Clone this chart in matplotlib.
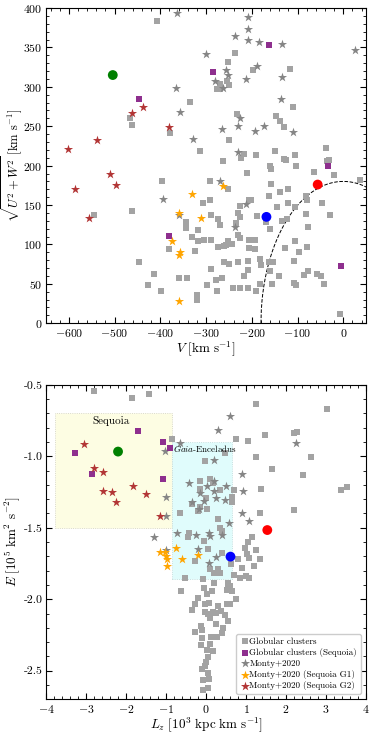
import matplotlib
matplotlib.use("Agg")
import matplotlib.pyplot as plt
import numpy as np
from matplotlib.patches import Rectangle
from matplotlib.ticker import AutoMinorLocator, MultipleLocator

plt.rcParams["font.family"] = "serif"
plt.rcParams["font.serif"] = ["cmr10", "DejaVu Serif"]
plt.rcParams["mathtext.fontset"] = "cm"
plt.rcParams["axes.formatter.use_mathtext"] = True

# ---------------- top panel: V vs sqrt(U^2+W^2) ----------------
gc_v = [-407, -237, -251, -197, -116, -277, -269, -270, -249, -255, -336, -111, -467, -461,
        -233, -148, -139, -130, -379, -249, -313, -218, -190, -106, -150, -224, -264, -129,
        -125, -161, -157, -103, -38, -32, -35, -63, -211, -20, 36, -396,
        -291, -251, -546, -461, -343, -343, -380, -291, -307, -289, -275, -269, -317, -330,
        -317, -305, -289, -273, -260, -252, -244, -257, -226, -231, -226, -234, -231, -225,
        -206, -202, -206, -207, -194, -192, -189, -168, -158, -161, -163, -145, -139, -121,
        -121, -133, -122, -106, -82, -80, -81, -78, -46, -29, -128, -106, -96, -80, -107,
        -163, -181, -179, -160, -154, -141, -208, -231, -260, -250, -208, -218, -289, -265,
        -279, -297, -277, -241, -225, -208, -190, -181, -156, -108, -104, -86, -78, -58, -48,
        -42, -7, -446, -414, -427, -399, -359, -341, -320, -319, -325]
gc_uw = [384, 343, 331, 322, 323, 297, 297, 303, 302, 307, 281, 274, 260, 252,
         266, 263, 257, 249, 241, 232, 218, 215, 214, 214, 218, 210, 206, 208,
         207, 200, 196, 200, 223, 207, 206, 192, 191, 188, 182, 181,
         180, 170, 137, 142, 128, 121, 94, 156, 153, 137, 132, 125, 118, 110,
         105, 106, 106, 97, 98, 105, 100, 99, 149, 140, 135, 127, 112, 108,
         157, 157, 106, 96, 94, 106, 136, 128, 177, 119, 162, 147, 167, 171,
         152, 130, 132, 147, 162, 157, 139, 122, 152, 137, 96, 104, 91, 97, 79,
         78, 82, 74, 66, 78, 60, 79, 78, 78, 75, 67, 60, 69, 58,
         55, 49, 41, 45, 45, 45, 41, 50, 50, 51, 49, 61, 66, 63, 60,
         50, 12, 78, 62, 48, 41, 58, 58, 36, 29, 92]

seq_gc_v = [-284, -447, -162, -34, -381, -4]
seq_gc_uw = [319, 284, 353, 200, 111, 73]

monty_v = [-364, -208, -209, -236, -208, -185, -135, -300, 25, -188, -257, -253, -135, -281,
           -212, -366, -262, -136, -356, -226, -265, -231, -192, -174, -111, -328, -230,
           -269, -395, -212, -236, -360]
monty_uw = [394, 389, 373, 365, 359, 357, 355, 342, 347, 327, 322, 315, 313, 307,
            310, 299, 299, 285, 268, 260, 246, 250, 244, 250, 243, 234, 217,
            180, 158, 151, 122, 138]

g1_v = [-331, -264, -360, -312, -375, -356, -359, -360]
g1_uw = [164, 174, 140, 133, 104, 91, 87, 28]

g2_v = [-602, -538, -510, -461, -437, -380, -586, -496, -556]
g2_uw = [221, 233, 190, 267, 274, 249, 170, 175, 133]

big_v = [-504, -168, -56]
big_uw = [315, 135, 176]
big_colors = ["green", "blue", "red"]

v_halo = 180  # radius of dashed boundary

# ---------------- bottom panel: Lz vs E ----------------
gc_lz = [-2.80, -1.85, -1.43, 1.25, 3.03, -0.86, 0.75, 1.04, 1.47, 2.19, 2.28, 0.47, 1.25, 1.65,
         2.63, 2.41, 3.38, 3.51, 2.19, 1.34, 1.37, -0.66, 0.71, 0.66, 0.64,
         -0.02, 0.10, -0.14, 0.17, 0.36, -0.14, 0.00, -0.36, -0.15, 0.03, -0.21, 0.31, 0.36,
         0.39, -0.45, -0.42, -0.06, 0.04, -0.27, 0.39, -0.53, -0.07, 0.21, 0.30, 0.19, 0.34,
         0.10, 0.56,
         1.16, 1.06, 0.97, 1.25, 1.03, 1.08, 1.34, 0.79, 0.62, 0.89, 1.19, 0.71, 0.86, 1.00, 1.07,
         -0.62, -0.36, -0.27, -0.19, -0.04, 0.02, 0.14, -0.03, 0.08, -0.03, 0.04, 0.10, 0.17,
         0.31, 0.38, 0.25, 0.47, 0.53, 0.59, 0.75, 0.53, 0.59, 0.64, 0.55, 0.54, 0.25, 0.42,
         0.39, -0.12, -0.11, -0.27, -0.10, 0.13, 0.27, -0.13, 0.11, 0.03, 0.17, 0.04, 0.00,
         -0.11, -0.02, 0.04, -0.07, 0.08, -0.08, 0.04]
gc_e = [-0.544, -0.591, -0.563, -0.635, -0.670, -0.877, -0.881, -0.891, -0.849, -0.837, -0.830,
        -0.977, -1.005, -1.086, -1.002, -1.133, -1.237, -1.216, -1.379, -1.398, -1.228, -1.398,
        -1.237, -1.284, -1.321,
        -1.035, -1.156, -1.174, -1.186, -1.237, -1.228, -1.291, -1.337, -1.353, -1.372, -1.384,
        -1.437, -1.500, -1.523, -1.563, -1.540, -1.593, -1.647, -1.733, -1.674, -1.849, -1.860,
        -1.884, -1.791, -1.814, -1.814, -1.786, -1.888,
        -1.568, -1.601, -1.640, -1.658, -1.686, -1.709, -1.716, -1.721, -1.756, -1.779, -1.767,
        -1.830, -1.849, -1.837, -1.849,
        -1.945, -2.078, -2.033, -1.991, -1.921, -1.961, -1.940, -2.030, -2.026, -2.090, -2.102,
        -2.128, -2.088, -2.046, -2.079, -2.098, -2.107, -2.034, -2.031, -1.999, -1.933, -1.910,
        -1.945, -1.891, -2.154, -2.175, -2.203, -2.233, -2.186, -2.215, -2.226, -2.273, -2.265,
        -2.265, -2.319, -2.314, -2.354, -2.365, -2.405, -2.436, -2.489, -2.466, -2.518, -2.565,
        -2.560, -2.635, -2.624]

seq_gc_lz = [-3.27, -1.71, -2.85, -1.08, -0.89, -1.08]
seq_gc_e = [-0.977, -0.823, -1.126, -0.898, -0.940, -1.160]

monty_lz = [0.59, 0.30, -0.64, -1.02, 2.24, 0.20, 0.89, 0.93, -0.99, -0.99, 0.89, 1.08, -1.29,
            -0.43, 0.21, 0.03, 0.49, -0.14, 0.21, -0.04, 0.25, 0.47, -0.34, -0.17, 0.58, -0.73,
            -0.25, 0.07, 0.10, 0.40, -0.21, -0.99, 0.24, 0.07]
monty_e = [-0.716, -0.814, -0.907, -0.963, -0.907, -1.023, -1.121, -1.244, -1.284, -1.421,
           -1.398, -1.456, -1.562, -1.186, -1.174, -1.209, -1.209, -1.256, -1.244, -1.314,
           -1.291, -1.307, -1.321, -1.367, -1.470, -1.540, -1.553, -1.535, -1.558, -1.553,
           -1.647, -1.658, -1.702, -1.749]

g1_lz = [-1.14, -1.02, -0.99, -0.97, -0.97, -0.76, -0.61, -0.19]
g1_e = [-1.673, -1.669, -1.699, -1.722, -1.769, -1.645, -1.720, -1.694]

g2_lz = [-3.05, -2.81, -2.58, -2.58, -2.36, -2.25, -1.82, -1.49, -1.16]
g2_e = [-0.916, -1.084, -1.107, -1.240, -1.249, -1.319, -1.205, -1.265, -1.421]

big_lz = [-2.20, 0.61, 1.53]
big_e = [-0.967, -1.702, -1.516]

seq_box = (-3.77, -0.86, -1.50, -0.70)   # lz0, lz1, e0, e1
ge_box = (-0.85, 0.64, -1.86, -0.90)

e_ticks = [-0.5, -1.0, -1.5, -2.0, -2.5]
e_ticklabels = ["-0.5", "-1.0", "-1.5", "-2.0", "-2.5"]

c_gc = "#a3a3a3"
c_seq = "#8e2f8e"
c_monty = "#858585"
c_g1 = "#ffa500"
c_g2 = "#b23535"

fig = plt.figure(figsize=(3.74, 7.33), dpi=100)
ax1 = fig.add_axes([0.123, 0.559, 0.856, 0.430])
ax2 = fig.add_axes([0.123, 0.046, 0.856, 0.429])

s_sq, s_star, s_big = 16, 48, 50


def draw(ax, gx, gy, sx, sy, mx, my, ax_, ay_, bx, by, cx, cy):
    ax.scatter(gx, gy, marker="s", s=s_sq, c=c_gc, lw=0, zorder=3, label="Globular clusters")
    ax.scatter(sx, sy, marker="s", s=s_sq, c=c_seq, lw=0, zorder=4,
               label="Globular clusters (Sequoia)")
    ax.scatter(mx, my, marker="*", s=s_star, c=c_monty, lw=0, zorder=3, label="Monty+2020")
    ax.scatter(ax_, ay_, marker="*", s=s_star, c=c_g1, lw=0, zorder=4,
               label="Monty+2020 (Sequoia G1)")
    ax.scatter(bx, by, marker="*", s=s_star, c=c_g2, lw=0, zorder=4,
               label="Monty+2020 (Sequoia G2)")
    ax.scatter(cx, cy, marker="o", s=s_big, c=big_colors, lw=0, zorder=5)
    ax.tick_params(which="both", direction="in", top=True, right=True, labelsize=8.5, pad=2.5)
    ax.tick_params(which="major", length=4)
    ax.tick_params(which="minor", length=2)


draw(ax1, gc_v, gc_uw, seq_gc_v, seq_gc_uw, monty_v, monty_uw, g1_v, g1_uw, g2_v, g2_uw,
     big_v, big_uw)
vv = np.linspace(-v_halo, 50, 300)
ax1.plot(vv, np.sqrt(np.clip(v_halo ** 2 - vv ** 2, 0, None)), ls="--", c="k", lw=0.7,
         zorder=2)
ax1.set_xlim(-650, 50)
ax1.set_ylim(0, 400)
ax1.xaxis.set_major_locator(MultipleLocator(100))
ax1.xaxis.set_minor_locator(AutoMinorLocator(5))
ax1.yaxis.set_major_locator(MultipleLocator(50))
ax1.yaxis.set_minor_locator(AutoMinorLocator(5))
ax1.set_xlabel(r"$V\ [\mathrm{km\ s^{-1}}]$", fontsize=9.5, labelpad=0.5)
ax1.set_ylabel(r"$\sqrt{U^2 + W^2}\ [\mathrm{km\ s^{-1}}]$", fontsize=9, labelpad=-1)

draw(ax2, gc_lz, gc_e, seq_gc_lz, seq_gc_e, monty_lz, monty_e, g1_lz, g1_e, g2_lz, g2_e,
     big_lz, big_e)
ax2.add_patch(Rectangle((seq_box[0], seq_box[2]), seq_box[1] - seq_box[0],
                        seq_box[3] - seq_box[2], facecolor="#fdfde3", edgecolor="#cfcfbf",
                        ls=":", lw=0.6, zorder=1))
ax2.add_patch(Rectangle((ge_box[0], ge_box[2]), ge_box[1] - ge_box[0],
                        ge_box[3] - ge_box[2], facecolor="#e0fcfc", edgecolor="#bcd8d8",
                        ls=":", lw=0.6, zorder=1))
ax2.text(-2.37, -0.75, "Sequoia", fontsize=8, ha="center", va="center", zorder=6)
ax2.text(-0.83, -0.947, r"$\mathit{Gaia}$-Enceladus", fontsize=6.5, ha="left", va="center",
         zorder=6)
ax2.set_xlim(-4, 4)
ax2.set_ylim(-2.7, -0.5)
ax2.xaxis.set_major_locator(MultipleLocator(1))
ax2.xaxis.set_minor_locator(AutoMinorLocator(5))
ax2.set_yticks(e_ticks)
ax2.set_yticklabels(e_ticklabels)
ax2.yaxis.set_minor_locator(AutoMinorLocator(5))
ax2.set_xlabel(r"$L_z\ [10^3\ \mathrm{kpc\ km\ s^{-1}}]$", fontsize=9.5, labelpad=0)
ax2.set_ylabel(r"$E\ [10^5\ \mathrm{km^2\ s^{-2}}]$", fontsize=9.5, labelpad=1)
ax2.legend(loc="lower right", fontsize=6.5, handletextpad=0.05, handlelength=1.0,
           borderpad=0.4, labelspacing=0.25, framealpha=1, edgecolor="#cccccc",
           borderaxespad=0.6)

fig.savefig("out.png", dpi=100)
